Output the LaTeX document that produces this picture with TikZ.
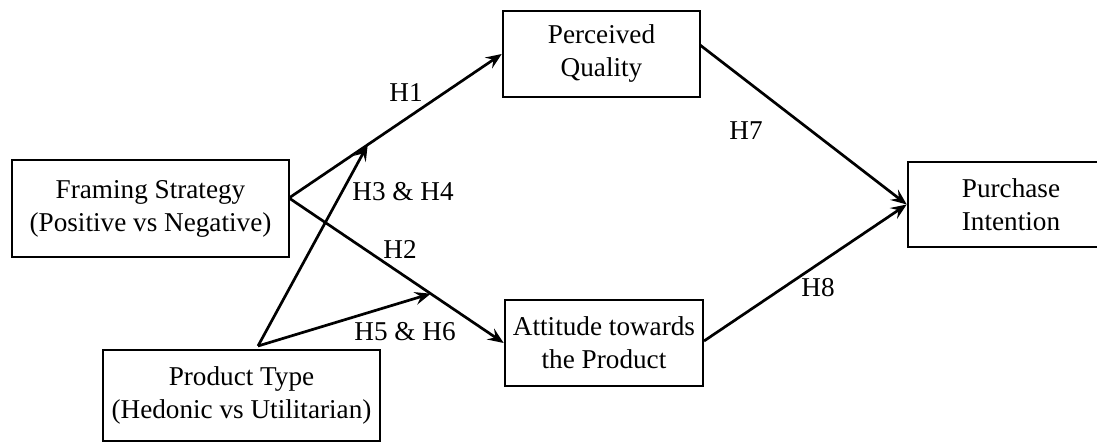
\documentclass[tikz,border=0pt]{standalone}
\usepackage{fontspec}
\setmainfont{Liberation Serif}
\usetikzlibrary{arrows.meta,calc}

\begin{document}
\begin{tikzpicture}[x=0.5pt,y=-0.5pt,->,>={Stealth[length=8pt,width=6.5pt,inset=3pt]},
	line width=1.35pt, font=\fontsize{13.6}{16.5}\selectfont,
	box/.style={draw,-,line width=1.25pt,align=center,inner sep=0pt},
	hyp/.style={inner sep=0pt}]
	\useasboundingbox (0,0) rectangle (1097,443);
	\node[box,minimum width=138.5pt,minimum height=48.5pt] (frame) at (150.5,208.5) {Framing Strategy\\(Positive vs Negative)};
	\node[box,minimum width=138.5pt,minimum height=45.5pt] (ptype) at (241.5,395.5) {Product Type\\(Hedonic vs Utilitarian)};
	\node[box,minimum width=98.5pt,minimum height=43pt] (pq) at (601.5,54) {Perceived\\Quality};
	\node[box,minimum width=99pt,minimum height=43pt] (att) at (604,343) {Attitude towards\\the Product};
	\node[box,minimum width=103pt,minimum height=42.5pt] (pi) at (1011,204.5) {Purchase\\Intention};
	
	\coordinate (fsout) at (289,198);
	\coordinate (ptout) at (258,346);
	\coordinate (pqout) at (700,45);
	\coordinate (attout) at (704,341);
	\coordinate (m1) at ($(fsout)!0.37!(pq.west)$);
	\coordinate (m2) at ($(fsout)!0.66!(att.west)$);
	
	\draw (fsout) -- (pq.west);
	\draw (fsout) -- (att.west);
	\draw (ptout) -- (m1);
	\draw (ptout) -- (m2);
	\draw (pqout) -- (pi.west);
	\draw (attout) -- (pi.west);
	
	\node[hyp] (h1) at (406,93) {H1};
	\node[hyp] (h34) at (403,192) {H3 \& H4};
	\node[hyp] (h2) at (400,249) {H2};
	\node[hyp] (h56) at (405,332) {H5 \& H6};
	\node[hyp] (h7) at (746,131) {H7};
	\node[hyp] (h8) at (818,288) {H8};
\end{tikzpicture}
\end{document}
